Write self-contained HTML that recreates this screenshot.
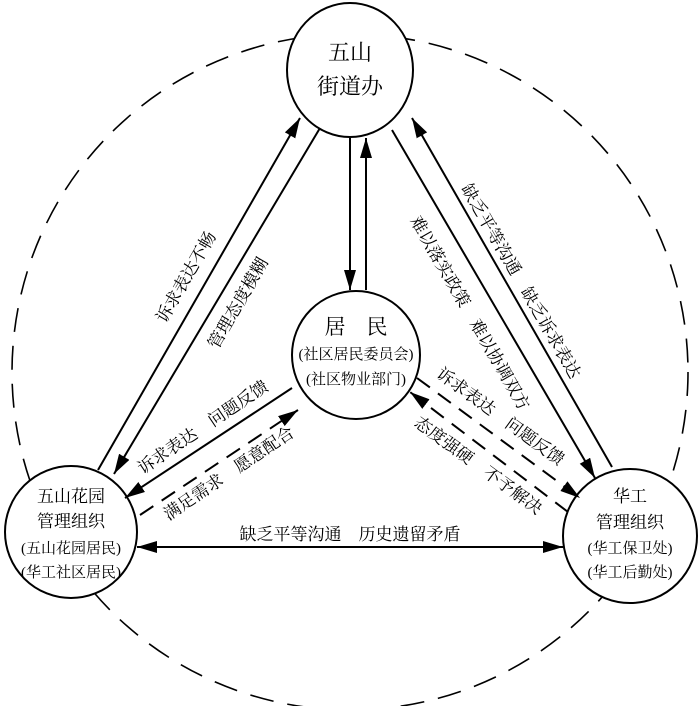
<!DOCTYPE html>
<html><head><meta charset="utf-8"><style>
html,body{margin:0;padding:0;background:#fff;}
svg{display:block;}
text{font-family:"Liberation Serif","Noto Serif CJK SC","Noto Sans CJK SC",serif;fill:#000;}
</style></head><body>
<svg width="700" height="706" viewBox="0 0 700 706" xmlns="http://www.w3.org/2000/svg">
<defs>
<marker id="a" viewBox="0 0 20 12" refX="20" refY="6" markerWidth="20" markerHeight="12" markerUnits="userSpaceOnUse" orient="auto"><path d="M0,0 L20,6 L0,12 z" fill="#000"/></marker>
<marker id="as" viewBox="0 0 20 12" refX="0" refY="6" markerWidth="20" markerHeight="12" markerUnits="userSpaceOnUse" orient="auto"><path d="M20,0 L0,6 L20,12 z" fill="#000"/></marker>
</defs>
<circle cx="350" cy="372" r="338" fill="none" stroke="#000" stroke-width="1.6" stroke-dasharray="24,14"/>
<g stroke="#000" stroke-width="2" fill="#fff">
<ellipse cx="350" cy="70" rx="63" ry="67"/>
<circle cx="356" cy="355" r="64"/>
<circle cx="71" cy="532" r="66"/>
<circle cx="630" cy="536" r="67"/>
</g>
<g stroke="#000" stroke-width="2" fill="none">
<line x1="98" y1="470" x2="300" y2="118" marker-end="url(#a)"/>
<line x1="320" y1="128" x2="114" y2="474" marker-end="url(#a)"/>
<line x1="350" y1="138" x2="350" y2="290" marker-end="url(#a)"/>
<line x1="366" y1="290" x2="366" y2="138" marker-end="url(#a)"/>
<line x1="392" y1="130" x2="595" y2="478" marker-end="url(#a)"/>
<line x1="612" y1="467" x2="412" y2="118" marker-end="url(#a)"/>
<line x1="292" y1="388" x2="125" y2="498" marker-end="url(#a)"/>
<line x1="140" y1="515" x2="298" y2="410" marker-end="url(#a)" stroke-dasharray="16,10"/>
<line x1="417" y1="378" x2="580" y2="498" marker-end="url(#a)" stroke-dasharray="16,10"/>
<line x1="568" y1="512" x2="410" y2="392" marker-end="url(#a)" stroke-dasharray="16,10"/>
<line x1="137" y1="547" x2="563" y2="547" marker-start="url(#as)" marker-end="url(#a)"/>
</g>
<g font-size="22" text-anchor="middle">
<text x="350" y="60">五山</text>
<text x="350" y="94">街道办</text>
<text x="356" y="334" font-size="21">居　民</text>
</g>
<g font-size="15" text-anchor="middle">
<text x="356" y="359">(社区居民委员会)</text>
<text x="356" y="384">(社区物业部门)</text>
</g>
<g font-size="17" text-anchor="middle">
<text x="71" y="502">五山花园</text>
<text x="71" y="527">管理组织</text>
<text x="630" y="502">华工</text>
<text x="630" y="528">管理组织</text>
</g>
<g font-size="15" text-anchor="middle">
<text x="71" y="553">(五山花园居民)</text>
<text x="71" y="577">(华工社区居民)</text>
<text x="630" y="553">(华工保卫处)</text>
<text x="630" y="577">(华工后勤处)</text>
</g>
<g font-size="17" text-anchor="middle">
<text x="350" y="540">缺乏平等沟通　历史遗留矛盾</text>
<text transform="translate(191,280) rotate(-60)">诉求表达不畅</text>
<text transform="translate(243,306) rotate(-60)">管理态度模糊</text>
<text transform="translate(516,284) rotate(60)">缺乏平等沟通　缺乏诉求表达</text>
<text transform="translate(465,316) rotate(60)">难以落实政策　难以协调双方</text>
<text transform="translate(206,432) rotate(-34)">诉求表达　问题反馈</text>
<text transform="translate(232,478) rotate(-34)">满足需求　愿意配合</text>
<text transform="translate(497,421) rotate(36)">诉求表达　问题反馈</text>
<text transform="translate(475,470) rotate(36)">态度强硬　不予解决</text>
</g>
</svg>
</body></html>
